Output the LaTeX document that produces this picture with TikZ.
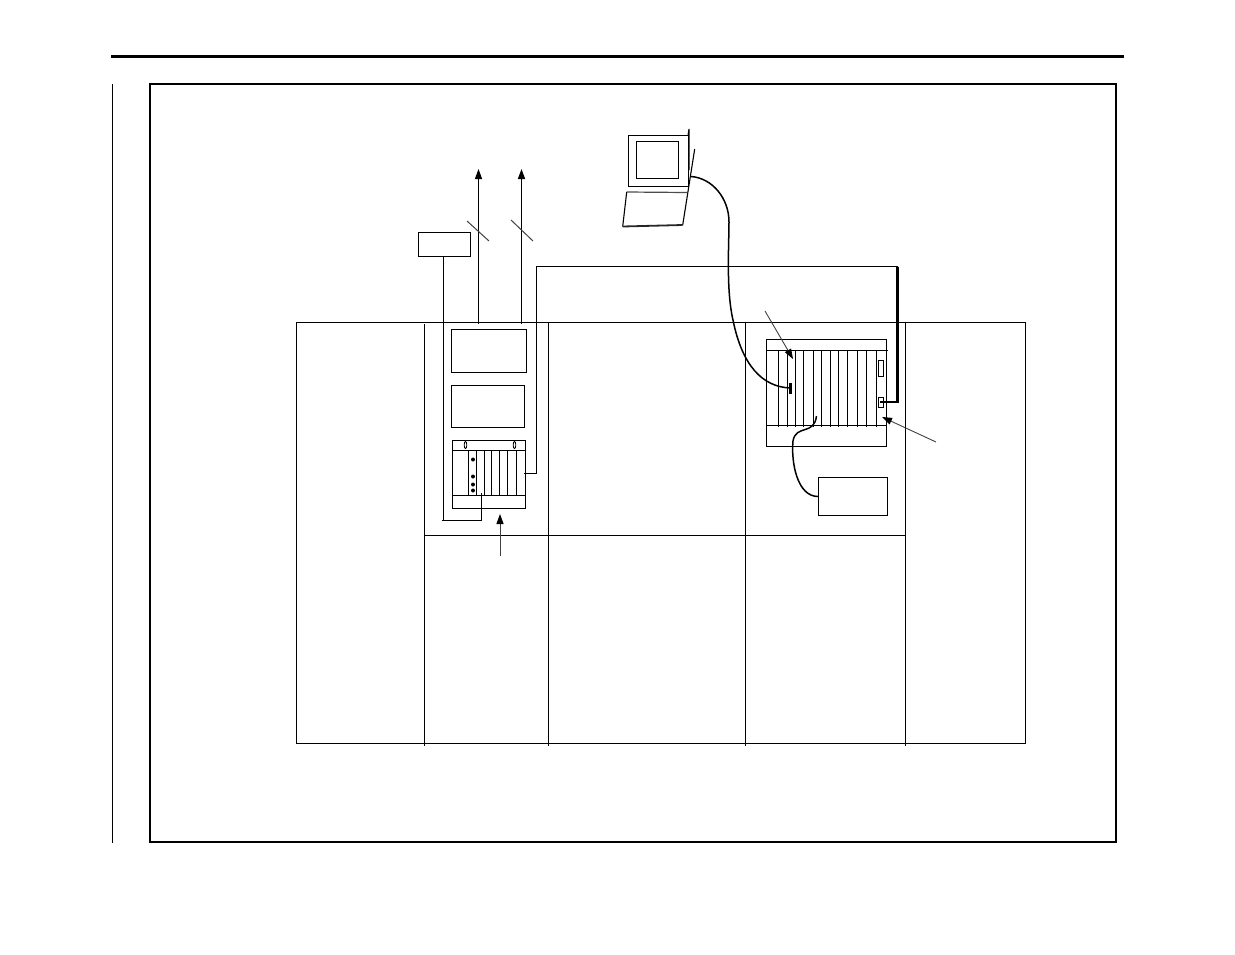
\documentclass[tikz,border=0pt]{standalone}
\usetikzlibrary{arrows.meta}
\tikzset{
  x=1pt,y=-1pt,
  ln/.style={draw=black,line width=1.1pt},
  fine/.style={draw=black,line width=0.8pt},
  heavy/.style={draw=black,line width=2.2pt},
  boxn/.style={draw=black,line width=1.1pt,inner sep=0pt,outer sep=0pt,anchor=north west},
  tipped/.style={-{Triangle[length=10pt,width=7pt,color=black,fill=black]}},
  joinm/.style={line join=miter,line cap=butt},
}
% name, left, top, width, height
\newcommand{\bx}[5]{\node[boxn,minimum width=#4pt,minimum height=#5pt] (#1) at (#2,#3) {};}
\begin{document}
\begin{tikzpicture}
\useasboundingbox (0,0) rectangle (1235,954);
% page furniture
\draw[draw=black,line width=2.6pt] (111,56.5) -- (1124,56.5);
\draw[fine] (112.5,84) -- (112.5,843);
\draw[draw=black,line width=2pt] (150,84) rectangle (1116,842);
% table
\draw[ln] (296.5,322.5) rectangle (1025.5,743.5);
\draw[ln] (424.5,324) -- (424.5,746);
\draw[ln] (548.5,322.5) -- (548.5,746);
\draw[ln] (745.5,322.5) -- (745.5,746);
\draw[ln] (905.5,322.5) -- (905.5,746);
\draw[ln] (424.5,535.5) -- (905.5,535.5);
% boxes
\bx{small}{418.5}{232.5}{52}{24}
\bx{boxa}{451.5}{329.5}{75}{43}
\bx{boxb}{451.5}{385.5}{73}{42}
\bx{rackL}{452.5}{440.5}{73}{68}
\bx{rackR}{766.5}{339.5}{120}{107}
\bx{boxc}{818.5}{477.5}{69}{38}
\bx{slotA}{878.5}{360.5}{5}{16}
\bx{slotB}{878.5}{397.5}{5}{10}
% left rack interior
\draw[ln] (451.5,450.5) -- (525.5,450.5);
\draw[ln] (452.5,495.5) -- (525.5,495.5);
\foreach \xx in {468.5,476.5,484.5,491.5,499.5,507.5,516.5}
  \draw[ln] (\xx,450.5) -- (\xx,495.5);
\foreach \yy in {459.5,476.5,484.5,490.5}
  \fill[black] (473,\yy) circle (2pt);
\foreach \xx in {465.5,514.5}
  \draw[fine] (\xx,445) ellipse (1.3pt and 3.6pt);
% right rack interior
\draw[ln] (766.5,350.5) -- (888,350.5);
\draw[ln] (766.5,425.5) -- (886.5,425.5);
\foreach \xx in {778.5,787.5,795.5,803.5,813.5,821.5,830.5,838.5,847.5,857.5,866.5,876.5}
  \draw[ln] (\xx,350.5) -- (\xx,427);
% connectors left
\coordinate (tapL) at (481.5,493);
\coordinate (outL) at (524,473.5);
\coordinate (upA) at (478.5,324);
\coordinate (topA) at (478.5,169);
\coordinate (upB) at (521.5,324);
\coordinate (topB) at (521.5,169);
\draw[ln,joinm] (small.south -| 443.5,0) -- (443.5,520.5) -- (442,520.5) (443.5,520.5) -| (tapL);
\draw[ln,tipped] (upA) -- (topA);
\draw[draw=black,line width=1.6pt,tipped] (upB) -- (topB);
\draw[draw=black!75,line width=1pt] (467,221) -- (489,241);
\draw[draw=black!75,line width=1pt] (511,220) -- (533,241);
% long link
\coordinate (bend1) at (536.5,266.5);
\coordinate (bend2) at (897.5,266.5);
\coordinate (bend3) at (897.5,402);
\coordinate (endS) at (880,402);
\draw[ln,joinm] (outL) -- (536.5,473.5) -- (bend1) -- (bend2);
\draw[heavy,joinm] (bend2) -- (bend3) -- (endS);
% laptop
\bx{screen}{628.5}{135.5}{60}{51}
\bx{inner}{636.5}{141.5}{42}{37}
\coordinate (lidT) at (689,129);
\coordinate (lidB) at (689,170);
\coordinate (sideT) at (694.7,149);
\coordinate (sideB) at (682.7,225);
\coordinate (kbTL) at (626.7,192);
\coordinate (kbTR) at (687,192.5);
\coordinate (kbBL) at (622.7,226.5);
\draw[ln] (688,135.5) -- (lidT) -- (lidB);
\draw[ln] (sideT) -- (sideB);
\draw[draw=black!70,line width=1.2pt] (kbTL) -- (kbTR);
\draw[ln] (kbTL) -- (kbBL);
\draw[draw=black!85,line width=1.8pt] (kbBL) -- (sideB);
% cable laptop to rack
\coordinate (cabS) at (691,176.5);
\coordinate (cabE) at (790.5,388);
\draw[draw=black,line width=1.5pt] (cabS) .. controls (712,178) and (729,198) .. (729,222)
  .. controls (729,245) and (726,290) .. (733,320)
  .. controls (742,365) and (762,387) .. (cabE);
\draw[draw=black,line width=2.6pt] (790.5,383) -- (790.5,394);
% cable rack to box
\coordinate (cabT) at (816.5,416);
\draw[draw=black,line width=1.5pt] (cabT) .. controls (814,436) and (796,424) .. (793,441)
  .. controls (791,462) and (797,497) .. (boxc.west);
% arrows to racks
\coordinate (a1s) at (765,311);
\coordinate (a1e) at (793,359);
\draw[draw=black!75,line width=0.9pt,tipped] (a1s) -- (a1e);
\coordinate (a2s) at (936,442);
\coordinate (a2e) at (882,417);
\draw[draw=black!75,line width=0.9pt,tipped] (a2s) -- (a2e);
\coordinate (a3s) at (500,556);
\coordinate (a3e) at (500,514);
\draw[draw=black!75,line width=1pt,tipped] (a3s) -- (a3e);
\end{tikzpicture}
\end{document}
